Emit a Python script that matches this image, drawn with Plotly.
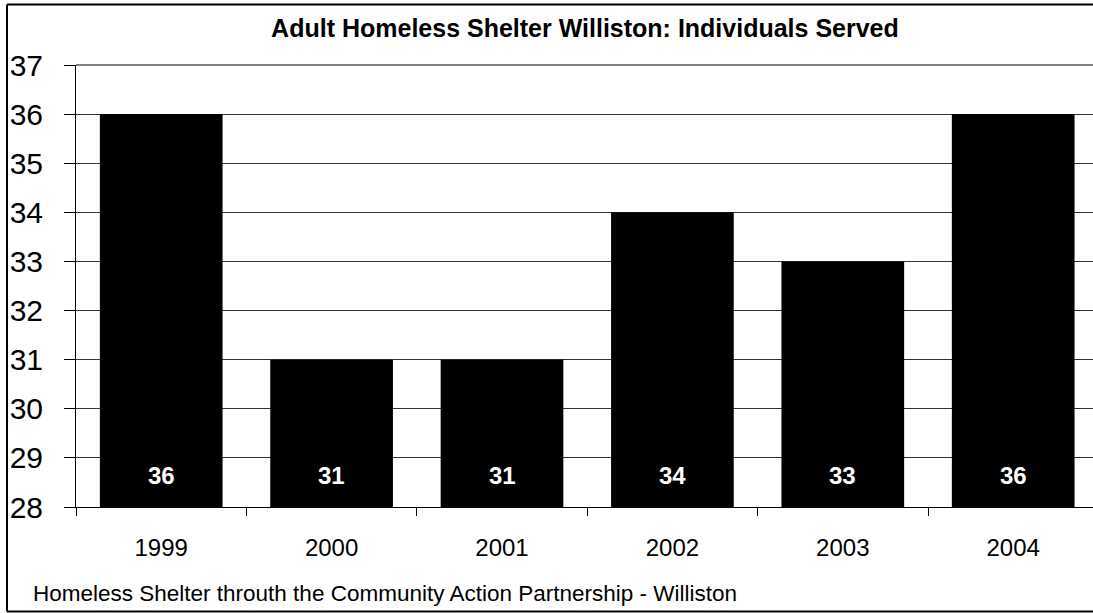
import plotly.graph_objects as go

# Individuals served per year
years = ["1999", "2000", "2001", "2002", "2003", "2004"]
served = [36, 31, 31, 34, 33, 36]

title_text = "Adult Homeless Shelter Williston: Individuals Served"
caption_text = "Homeless Shelter throuth the Community Action Partnership - Williston"

W, H = 1093, 613
ML, MT, MB = 76, 65, 106
plot_w = W - ML
plot_h = H - MT - MB

fig = go.Figure()
fig.add_trace(go.Bar(
    x=years, y=served,
    marker=dict(color="#000000", line=dict(width=0)),
    hoverinfo="skip",
))

# white value labels near the base of each bar (category index positions)
for i, v in enumerate(served):
    fig.add_annotation(
        x=i, y=28, xref="x", yref="y",
        text=f"<b>{v}</b>", showarrow=False,
        yanchor="bottom", yshift=16,
        font=dict(family="Liberation Sans, Arial", size=24, color="#ffffff"),
    )

def px_to_paper_x(px):
    return (px - ML) / plot_w

def px_to_paper_y(py):
    return (H - MB - py) / plot_h

# outer chart frame: left, top and bottom edges (the right edge lies off-page)
fx0, fx1 = px_to_paper_x(7), px_to_paper_x(1140)
fy0, fy1 = px_to_paper_y(611.5), px_to_paper_y(4.5)
for x0, y0, x1, y1 in [(fx0, fy0, fx0, fy1), (fx0, fy1, fx1, fy1), (fx0, fy0, fx1, fy0)]:
    fig.add_shape(
        type="line", xref="paper", yref="paper",
        x0=x0, y0=y0, x1=x1, y1=y1,
        line=dict(color="#000000", width=2), layer="above",
    )
# grey top edge of the plot area
fig.add_shape(
    type="line", xref="paper", yref="paper",
    x0=0, x1=1.05, y0=1, y1=1,
    line=dict(color="#808080", width=2), layer="above",
)

fig.add_annotation(
    xref="paper", yref="paper",
    x=px_to_paper_x(31), y=px_to_paper_y(593),
    xanchor="left", yanchor="middle",
    text=caption_text, showarrow=False,
    font=dict(family="Liberation Sans, Arial", size=22.5, color="#000000"),
)

fig.update_layout(
    width=W, height=H,
    margin=dict(l=ML, r=0, t=MT, b=MB, pad=0),
    paper_bgcolor="#ffffff", plot_bgcolor="#ffffff",
    bargap=0.28,
    showlegend=False,
    title=dict(
        text=f"<b>{title_text}</b>",
        x=547 / W, y=1 - 28 / H, xref="paper", yref="container",
        xanchor="center", yanchor="middle",
        font=dict(family="Liberation Sans, Arial", size=25, color="#000000"),
    ),
    xaxis=dict(
        type="category",
        range=[-0.5, -0.5 + plot_w / 170.4],
        tickson="boundaries",
        ticks="outside", ticklen=8, tickcolor="#000000", tickwidth=1,
        showline=True, linecolor="#000000", linewidth=1,
        showgrid=False,
        ticklabelstandoff=19,
        tickfont=dict(family="Liberation Sans, Arial", size=24, color="#000000"),
    ),
    yaxis=dict(
        range=[28, 37], dtick=1, tick0=28,
        ticks="outside", ticklen=11, tickcolor="#000000", tickwidth=1,
        showline=True, linecolor="#000000", linewidth=1,
        showgrid=True, gridcolor="#333333", gridwidth=1,
        zeroline=False,
        ticklabelstandoff=15,
        tickfont=dict(family="Liberation Sans, Arial", size=30, color="#000000"),
    ),
)

# keep the page free of scrollbars
page_js = (
    "document.documentElement.style.overflow='hidden';"
    "document.body.style.overflow='hidden';"
    "document.body.style.margin='0';"
)
fig.write_html("out.html", config={"displayModeBar": False}, post_script=page_js)
